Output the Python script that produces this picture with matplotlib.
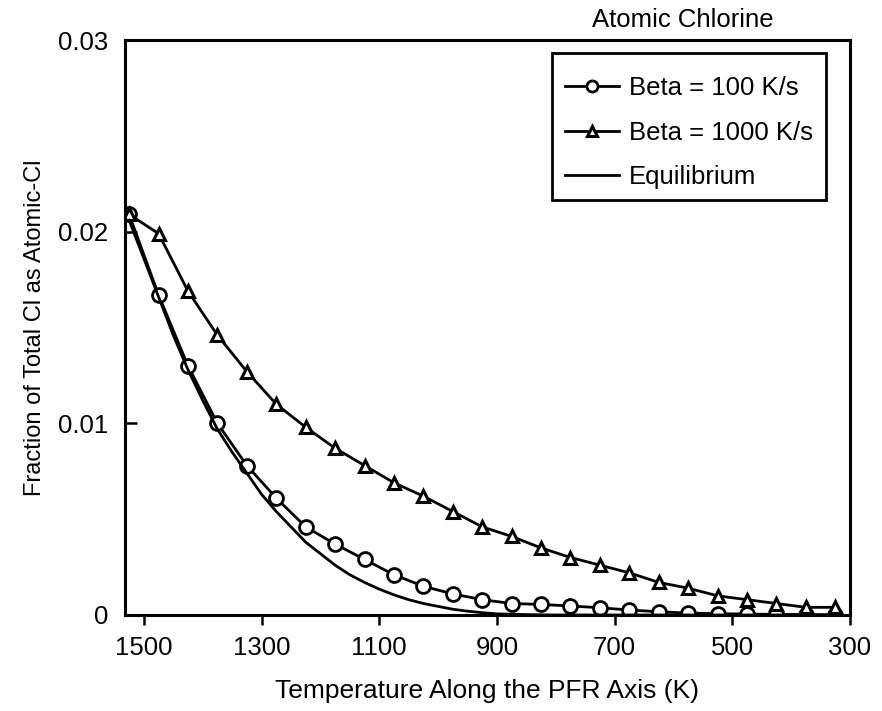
import matplotlib.pyplot as plt
from matplotlib.patches import Rectangle

# Temperatura ao longo do eixo do PFR (K), pontos a cada 50 K
temp = [1525, 1475, 1425, 1375, 1325, 1275, 1225, 1175, 1125, 1075, 1025, 975, 925,
        875, 825, 775, 725, 675, 625, 575, 525, 475, 425, 375, 325]

# Fracao de Cl total como Cl atomico
beta_100 = [0.0209, 0.0167, 0.0130, 0.0100, 0.0078, 0.0061, 0.0046, 0.0037, 0.0029,
            0.0021, 0.0015, 0.0011, 0.0008, 0.0006, 0.00055, 0.00047, 0.00038, 0.00026,
            0.00017, 0.0001, 0.00007, 0.00005, 0.00003, 0.00002, 0.00001]
beta_1000 = [0.0209, 0.0199, 0.0169, 0.0146, 0.0127, 0.0110, 0.0098, 0.0087, 0.0078,
             0.0069, 0.0062, 0.0054, 0.0046, 0.0041, 0.0035, 0.0030, 0.0026, 0.0022,
             0.0017, 0.0014, 0.0010, 0.0008, 0.0006, 0.0004, 0.0004]

# Curva de equilibrio (passo de 25 K na regiao que varia)
temp_eq = [1525, 1500, 1475, 1450, 1425, 1400, 1375, 1350, 1325, 1300, 1275, 1250, 1225,
           1200, 1175, 1150, 1125, 1100, 1075, 1050, 1025, 1000, 975, 950, 925, 900,
           850, 800, 700, 600, 500, 400, 325]
equilibrium = [0.0206, 0.0186, 0.0166, 0.0146, 0.0128, 0.0112, 0.0097, 0.0085, 0.0074,
               0.0063, 0.0054, 0.0046, 0.0038, 0.0032, 0.0026, 0.0021, 0.0017, 0.00135,
               0.00105, 0.0008, 0.0006, 0.00045, 0.0003, 0.0002, 0.00012, 0.00006,
               0.00002, 0.0, 0.0, 0.0, 0.0, 0.0, 0.0]

x_ticks = [1500, 1300, 1100, 900, 700, 500, 300]
y_ticks = [0, 0.01, 0.02, 0.03]
y_tick_labels = ['0', '0.01', '0.02', '0.03']

plt.rcParams['font.family'] = ['Liberation Sans', 'DejaVu Sans']
fs = 18.5
W, H = 882, 711

fig = plt.figure(figsize=(8.82, 7.11), dpi=100)
ax = fig.add_axes([125 / W, 96 / H, 725 / W, 575 / H])

ax.plot(temp, beta_100, color='black', lw=2, marker='o', ms=10,
        mfc='white', mec='black', mew=2, label='Beta = 100 K/s')
ax.plot(temp, beta_1000, color='black', lw=2, marker='^', ms=9,
        mfc='white', mec='black', mew=2.2, label='Beta = 1000 K/s')
ax.plot(temp_eq, equilibrium, color='black', lw=2, label='Equilibrium')

# Eixos
ax.set_xlim(1532, 300)
ax.set_ylim(0, 0.03)
ax.set_xticks(x_ticks)
ax.set_yticks(y_ticks)
ax.set_yticklabels(y_tick_labels)
ax.tick_params(axis='x', direction='out', length=7, width=1.8, labelsize=fs, pad=8)
ax.tick_params(axis='y', direction='in', length=8.5, width=1.8, labelsize=fs, pad=12)
for s in ax.spines.values():
    s.set_linewidth(2.2)

ax.set_xlabel('Temperature Along the PFR Axis (K)', fontsize=19, labelpad=14)
ax.set_ylabel('Fraction of Total Cl as Atomic-Cl', fontsize=17, labelpad=9)

# Legenda sem moldura + retangulo proprio
ax.legend(loc='upper left', bbox_to_anchor=(542 / W, 1 - 53 / H),
          bbox_transform=fig.transFigure, borderaxespad=0, fontsize=fs,
          frameon=False, handlelength=2.1, handletextpad=0.4,
          labelspacing=0.8, borderpad=0.9, markerscale=0.8)
fig.patches.append(Rectangle((552 / W, 1 - 200 / H), 274 / W, 147 / H,
                             transform=fig.transFigure, fill=False,
                             edgecolor='black', lw=2))

fig.text(683 / W, 1 - 20 / H, 'Atomic Chlorine', fontsize=fs, ha='center', va='center')

plt.savefig('out.png', dpi=100)
